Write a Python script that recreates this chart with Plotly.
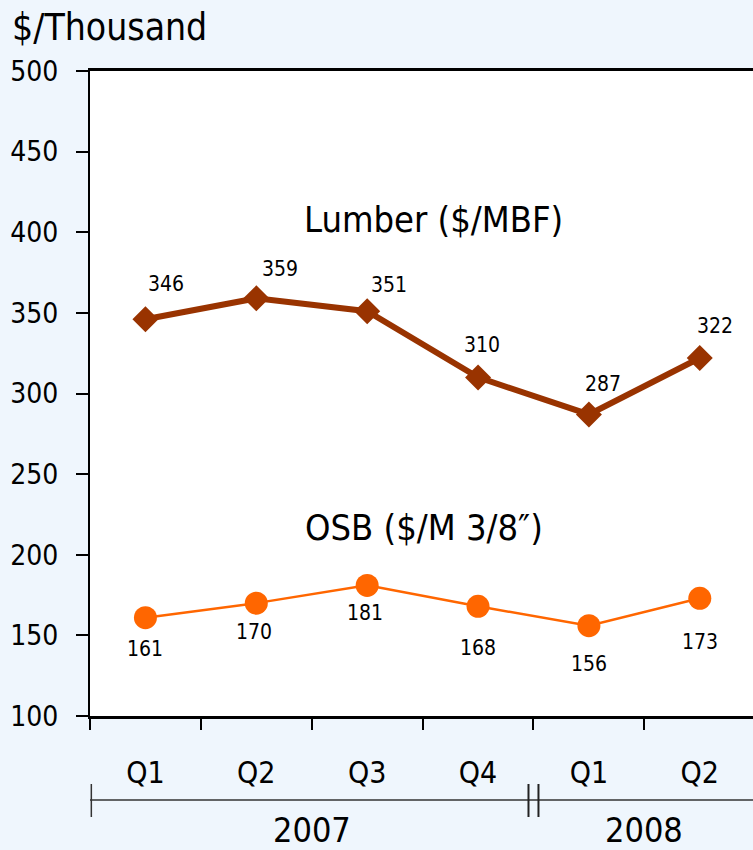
import plotly.graph_objects as go

# ---------------- data ----------------
quarters = ["Q1", "Q2", "Q3", "Q4", "Q1", "Q2"]
years = ["2007", "2008"]
quarters_per_year = [4, 2]
lumber = [346, 359, 351, 310, 287, 322]
osb = [161, 170, 181, 168, 156, 173]
y_ticks = [100, 150, 200, 250, 300, 350, 400, 450, 500]
lumber_name = "Lumber ($/MBF)"
osb_name = "OSB ($/M 3/8\u2033)"
y_title = "$/Thousand"

# label offsets (pixels) – styling only
lumber_dx = [21, 24, 22, 4, 14, 15]
lumber_dy = [35, 29, 26, 32, 30, 32]
osb_dx = [0, -2, -2, 0, 0, 0]
osb_dy = [-31, -29, -28, -42, -38, -44]

NARROW = "DejaVu Sans Condensed, Roboto, sans-serif"
BG = "#eff6fd"
LUMBER_C = "#993300"
OSB_C = "#ff6600"

x = list(range(len(quarters)))
xmin, xmax = -0.5, 5.48

fig = go.Figure()
fig.add_trace(go.Scatter(
    x=x, y=lumber, mode="lines+markers", name=lumber_name,
    line=dict(color=LUMBER_C, width=6),
    marker=dict(symbol="diamond", size=20, color=LUMBER_C),
    cliponaxis=False, showlegend=False,
))
fig.add_trace(go.Scatter(
    x=x, y=osb, mode="lines+markers", name=osb_name,
    line=dict(color=OSB_C, width=2.5),
    marker=dict(symbol="circle", size=23, color=OSB_C),
    cliponaxis=False, showlegend=False,
))

annotations = []
for i, v in enumerate(lumber):
    annotations.append(dict(x=x[i], y=v, text=str(v), showarrow=False,
                            xshift=lumber_dx[i], yshift=lumber_dy[i],
                            font=dict(family=NARROW, size=21, color="black")))
for i, v in enumerate(osb):
    annotations.append(dict(x=x[i], y=v, text=str(v), showarrow=False,
                            xshift=osb_dx[i], yshift=osb_dy[i],
                            font=dict(family=NARROW, size=21, color="black")))

# series names
annotations.append(dict(x=2.6, y=408, text=lumber_name, showarrow=False,
                        font=dict(family=NARROW, size=36, color="black")))
annotations.append(dict(x=2.51, y=217, text=osb_name, showarrow=False,
                        font=dict(family=NARROW, size=36, color="black")))

# year group labels and bracket
shapes = []
bracket_y = -0.1302
tick_top, tick_bot = -0.1054, -0.1566
start = -0.5
bounds = []
for yr, n in zip(years, quarters_per_year):
    end = start + n
    annotations.append(dict(x=(start + end) / 2, xref="x", y=-0.1767, yref="paper",
                            text=yr, showarrow=False, yanchor="middle",
                            font=dict(family=NARROW, size=34, color="black")))
    bounds.append(end)
    start = end

line_style = dict(color="#333333", width=1.5)
shapes.append(dict(type="line", xref="x domain", yref="paper", x0=0, x1=1,
                   y0=bracket_y, y1=bracket_y, line=line_style))
shapes.append(dict(type="line", xref="x domain", yref="paper", x0=0.002, x1=0.002,
                   y0=tick_top, y1=tick_bot, line=line_style))
for b in bounds[:-1]:
    for off in (-0.045, 0.045):
        shapes.append(dict(type="line", xref="x", yref="paper", x0=b + off, x1=b + off,
                           y0=tick_top, y1=tick_bot, line=dict(color="#222222", width=2)))

fig.update_layout(
    width=753, height=850,
    margin=dict(l=90, r=0, t=71, b=134),
    paper_bgcolor=BG, plot_bgcolor="white",
    title=dict(text=y_title, x=12 / 753, xref="container", xanchor="left",
               y=1 - 27 / 850, yref="container", yanchor="middle",
               font=dict(family=NARROW, size=37, color="black")),
    annotations=annotations, shapes=shapes,
)
fig.update_xaxes(
    range=[xmin, xmax], tickmode="array", tickvals=x, ticktext=quarters,
    ticks="", showgrid=False, zeroline=False,
    showline=True, linecolor="black", linewidth=3, mirror=True,
    tickfont=dict(family=NARROW, size=30, color="black"),
    ticklabelstandoff=28,
    minor=dict(tickmode="array", tickvals=[i - 0.5 for i in range(len(quarters))],
               ticks="outside", ticklen=11, tickwidth=2, tickcolor="black"),
)
fig.update_yaxes(
    range=[100, 500], tickmode="array", tickvals=y_ticks,
    ticks="outside", ticklen=12, tickwidth=2, tickcolor="black",
    showgrid=False, zeroline=False,
    showline=True, linecolor="black", linewidth=2,
    tickfont=dict(family=NARROW, size=28, color="black"),
    ticklabelstandoff=12,
)

fig.write_html("out.html", config={"displayModeBar": False},
               post_script="document.body.style.margin='0';document.body.style.overflow='hidden';")
